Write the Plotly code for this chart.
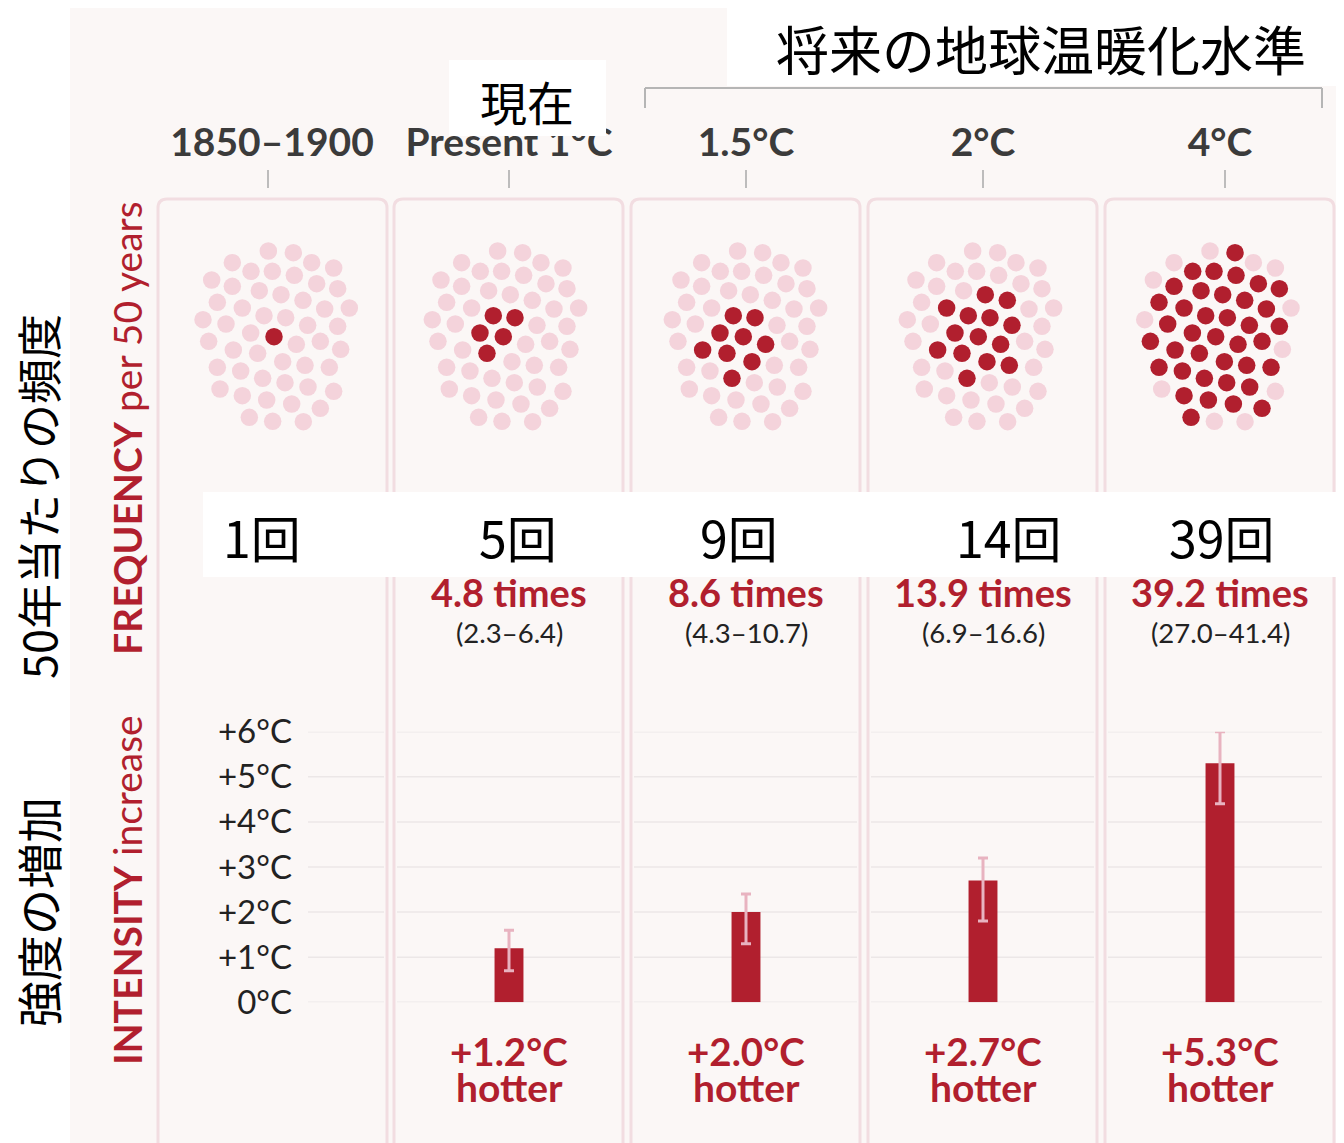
import plotly.graph_objects as go

W, H = 1344, 1143

# ---------------- data ----------------
TIERS = ["1850–1900", "Present 1°C", "1.5°C", "2°C", "4°C"]
FREQ_JA = ["1回", "5回", "9回", "14回", "39回"]
FREQ = [1.0, 4.8, 8.6, 13.9, 39.2]
FREQ_LO = [None, 2.3, 4.3, 6.9, 27.0]
FREQ_HI = [None, 6.4, 10.7, 16.6, 41.4]
INT_TIERS = TIERS[1:]
INTENSITY = [1.2, 2.0, 2.7, 5.3]
INT_LO = [0.7, 1.3, 1.8, 4.4]
INT_HI = [1.6, 2.4, 3.2, 6.0]
Y_TICKS = [0, 1, 2, 3, 4, 5, 6]
Y_TICK_LABELS = ["0°C", "+1°C", "+2°C", "+3°C", "+4°C", "+5°C", "+6°C"]

# 50 dots (one per year of a 50-year period), pattern units
DOT_X = [355, 430, 247, 485, 551, 303, 367, 433, 185, 247, 500, 563, 328, 393, 459,
         202, 277, 524, 598, 159, 342, 407, 228, 473, 563, 302, 372, 439, 511, 176,
         250, 323, 572, 398, 465, 538, 202, 272, 338, 405, 474, 210, 277, 551, 350,
         425, 511, 298, 368, 460]
DOT_Y = [183, 188, 218, 218, 234, 244, 244, 256, 270, 289, 281, 296, 302, 314, 331,
         337, 354, 357, 354, 389, 377, 383, 402, 406, 409, 429, 440, 463, 454, 454,
         480, 490, 478, 515, 526, 532, 532, 543, 565, 578, 591, 597, 617, 604, 630,
         642, 655, 682, 694, 695]
LIGHT_4C = [0, 2, 3, 4, 8, 18, 19, 32, 41, 43, 48, 49]
DARK_DOTS = [
    [26],
    [20, 21, 25, 26, 31],
    [20, 21, 25, 26, 27, 30, 31, 33, 38],
    [13, 14, 16, 20, 21, 23, 25, 26, 27, 30, 31, 33, 34, 38],
    [i for i in range(50) if i not in LIGHT_4C],
]

# ---------------- styles / layout helpers ----------------
RED = "#b11f2e"
PINK = "#f4d3db"
ERR = "#e8b3c0"
BG = "#fbf7f6"
BORDER = "#f2dde1"
GRID = "#ece7e7"
FONT = "Lato, sans-serif"
JA = "Noto Sans CJK JP, sans-serif"

OFF = 8   # page body margin

def px(x):
    return (x - OFF) / W

def py(y):
    return 1 - (y - OFF) / H

PANEL_L = [158, 394, 631, 868, 1105]
PANEL_W = 229
PANEL_TOP = 199
CLUSTER_X0 = [150, 379.3, 619.3, 854.3, 1091.7]   # px of pattern origin
CLUSTER_Y0 = 190
DOT_SCALE = 3.0     # pattern units per px

Y0_PX, Y6_PX = 1002.3, 731.7
AX_L, AX_R = 308, 1334
HDR_L = 140
CAT0_PX, CAT_STEP = 509 - 237, 237

fig = go.Figure()

# bars
fig.add_trace(go.Bar(
    x=INT_TIERS, y=INTENSITY, width=0.122,
    marker=dict(color=RED, line=dict(width=0)),
    error_y=dict(type="data", symmetric=False,
                 array=[h - v for h, v in zip(INT_HI, INTENSITY)],
                 arrayminus=[v - l for l, v in zip(INT_LO, INTENSITY)],
                 color=ERR, thickness=3, width=5),
    xaxis="x", yaxis="y", hoverinfo="skip", showlegend=False,
))

# dot clusters
for k in range(5):
    dark = set(DARK_DOTS[k])
    colors = [RED if i in dark else PINK for i in range(len(DOT_X))]
    fig.add_trace(go.Scatter(
        x=DOT_X, y=DOT_Y, mode="markers",
        marker=dict(size=17.5, color=colors, line=dict(width=0)),
        xaxis=f"x{k + 2}", yaxis=f"y{k + 2}", hoverinfo="skip", showlegend=False,
    ))

# header labels (trace so that the 現在 box can overlap it)
fig.add_trace(go.Scatter(
    x=TIERS, y=[0.5] * 5, mode="text", text=TIERS,
    textfont=dict(family=FONT, size=39, color="#3b3b3b", weight=700),
    textposition="middle center", cliponaxis=False,
    xaxis="x7", yaxis="y7", hoverinfo="skip", showlegend=False,
))

cat_lo = (AX_L - CAT0_PX) / CAT_STEP
cat_hi = (AX_R - CAT0_PX) / CAT_STEP
hdr_lo = (HDR_L - CAT0_PX) / CAT_STEP

layout = dict(
    width=W, height=H,
    margin=dict(l=0, r=0, t=0, b=0, pad=0, autoexpand=False),
    paper_bgcolor="white", plot_bgcolor="rgba(0,0,0,0)",
    showlegend=False,
    xaxis=dict(domain=[px(AX_L), px(AX_R)], type="category",
               categoryorder="array", categoryarray=TIERS,
               range=[cat_lo, cat_hi], showticklabels=False, showgrid=False,
               zeroline=False, showline=False, ticks="", fixedrange=True,
               automargin=False),
    yaxis=dict(domain=[py(Y0_PX), py(Y6_PX)], range=[0, 6],
               tickvals=Y_TICKS, ticktext=Y_TICK_LABELS, ticks="",
               tickfont=dict(family=FONT, size=33, color="#222222"),
               ticklabelstandoff=15, showgrid=False, zeroline=False,
               showline=False, fixedrange=True, automargin=False),
    xaxis7=dict(domain=[px(HDR_L), px(AX_R)], type="category",
                categoryorder="array", categoryarray=TIERS,
                range=[hdr_lo, cat_hi], visible=False, anchor="y7"),
    yaxis7=dict(domain=[py(166), py(126)], range=[0, 1], visible=False, anchor="x7"),
)
for k in range(5):
    L = PANEL_L[k]
    R = L + PANEL_W
    T, B = PANEL_TOP, 480
    layout[f"xaxis{k + 2}"] = dict(
        domain=[px(L), px(R)],
        range=[DOT_SCALE * (L - CLUSTER_X0[k]), DOT_SCALE * (R - CLUSTER_X0[k])],
        visible=False, anchor=f"y{k + 2}", fixedrange=True)
    layout[f"yaxis{k + 2}"] = dict(
        domain=[py(B), py(T)],
        range=[DOT_SCALE * (B - CLUSTER_Y0), DOT_SCALE * (T - CLUSTER_Y0)],
        visible=False, anchor=f"x{k + 2}", fixedrange=True)
fig.update_layout(**layout)

shapes = []
# light background
shapes.append(dict(type="rect", xref="paper", yref="paper", x0=px(70), x1=1.0,
                   y0=0.0, y1=py(8), fillcolor=BG, line=dict(width=0), layer="below"))

# panel frames (rounded top corners, open bottom)
def panel_path(L, R, T, B, r):
    return (f"M {px(L)},{py(B)} L {px(L)},{py(T + r)} Q {px(L)},{py(T)} {px(L + r)},{py(T)} "
            f"L {px(R - r)},{py(T)} Q {px(R)},{py(T)} {px(R)},{py(T + r)} L {px(R)},{py(B)}")

for k in range(5):
    L = PANEL_L[k]
    shapes.append(dict(type="path", xref="paper", yref="paper",
                       path=panel_path(L, L + PANEL_W, PANEL_TOP, H + 10, 9),
                       line=dict(color=BORDER, width=3), fillcolor="rgba(0,0,0,0)",
                       layer="below"))

# per-panel gridlines
for k in range(5):
    L = PANEL_L[k]
    gl = AX_L if k == 0 else L + 3
    gr = L + PANEL_W - 3 if k < 4 else L + PANEL_W - 12
    for v in Y_TICKS:
        shapes.append(dict(type="line", xref="paper", yref="y", x0=px(gl), x1=px(gr),
                           y0=v, y1=v, line=dict(color=GRID, width=1.5), layer="below"))

# small ticks below the column headers
TICK_PX = [268, 509, 746, 983, 1225]
for xx in TICK_PX:
    shapes.append(dict(type="line", xref="paper", yref="paper", x0=px(xx), x1=px(xx),
                       y0=py(188), y1=py(170), line=dict(color="#a8a8a8", width=1.5),
                       layer="below"))

# white overlay boxes of the translation
shapes.append(dict(type="rect", xref="paper", yref="paper", x0=px(727), x1=1.0,
                   y0=py(86), y1=1.0, fillcolor="white", line=dict(width=0), layer="below"))
shapes.append(dict(type="rect", xref="paper", yref="paper", x0=px(203), x1=1.0,
                   y0=py(577), y1=py(492), fillcolor="white", line=dict(width=0), layer="below"))
shapes.append(dict(type="rect", xref="paper", yref="paper", x0=px(449), x1=px(606),
                   y0=py(136), y1=py(60), fillcolor="white", line=dict(width=0), layer="above"))

# bracket for future warming levels
for (x0, y0, x1, y1) in [(645, 88, 1322, 88), (645, 88, 645, 108), (1322, 88, 1322, 108)]:
    shapes.append(dict(type="line", xref="paper", yref="paper", x0=px(x0), x1=px(x1),
                       y0=py(y0), y1=py(y1), line=dict(color="#b5b5b5", width=2),
                       layer="below"))
fig.update_layout(shapes=shapes)

ann = []

def add_text(text, x, y, size, color, family, angle=0, xref="paper"):
    ann.append(dict(text=text, x=x, y=y, xref=xref, yref="paper", textangle=angle,
                    xanchor="center", yanchor="middle", showarrow=False,
                    font=dict(family=family, size=size, color=color)))

# Japanese titles
add_text("将来の地球温暖化水準", px(1041), py(48), 53, "black", JA)
add_text("現在", px(527), py(100), 47, "black", JA)
add_text("50年当たりの頻度", px(37), py(497), 45, "black", JA, angle=-90)
add_text("強度の増加", px(37), py(912), 46, "black", JA, angle=-90)
# English axis labels
add_text("<b>FREQUENCY</b> per 50 years", px(127), py(428), 39, RED, FONT, angle=-90)
add_text("<b>INTENSITY</b> increase", px(127), py(890), 39, RED, FONT, angle=-90)

# Japanese frequency counts
JA_X = [262, 518, 739, 1009, 1222]
for txt, xx in zip(FREQ_JA, JA_X):
    add_text(txt, px(xx), py(536), 50, "black", JA)

# frequency numbers
for t, f, lo, hi in zip(TIERS, FREQ, FREQ_LO, FREQ_HI):
    if lo is None:
        continue
    add_text(f"<b>{f:.1f} times</b>", t, py(592), 38, RED, FONT, xref="x")
    add_text(f"({lo:.1f}–{hi:.1f})", t, py(632), 27.5, "#222222", FONT, xref="x")

# intensity labels
for t, v in zip(INT_TIERS, INTENSITY):
    add_text(f"<b>+{v:.1f}°C</b>", t, py(1051), 38.5, RED, FONT, xref="x")
    add_text("<b>hotter</b>", t, py(1087), 39, RED, FONT, xref="x")
fig.update_layout(annotations=ann)

fig.write_html("out.html")
